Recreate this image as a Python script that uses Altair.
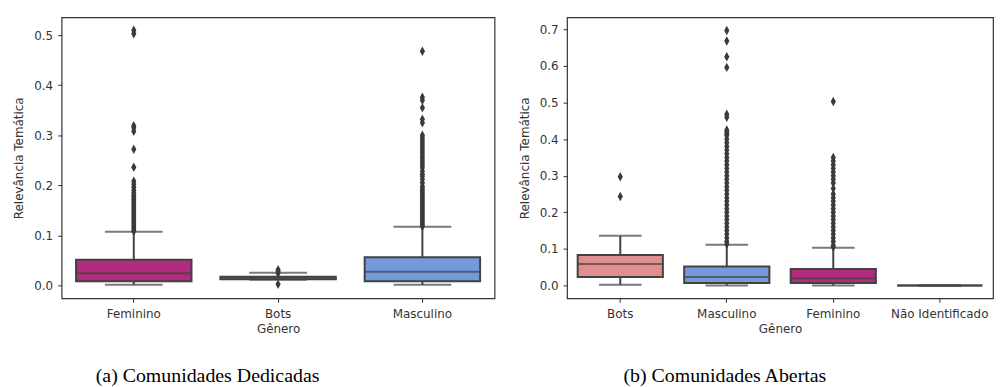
import altair as alt
import pandas as pd

# ---------------- data: (a) Comunidades Dedicadas ----------------
cats_a = ["Feminino", "Bots", "Masculino"]
q1_a = [0.008, 0.012, 0.008]
med_a = [0.024, 0.015, 0.027]
q3_a = [0.051, 0.017, 0.056]
wlo_a = [0.001, 0.011, 0.001]
whi_a = [0.107, 0.025, 0.117]
out_a_fem = [0.108, 0.112, 0.116, 0.12, 0.124, 0.128, 0.132, 0.136, 0.14, 0.144,
             0.148, 0.152, 0.156, 0.16, 0.164, 0.168, 0.172, 0.176, 0.18, 0.185,
             0.19, 0.196, 0.202, 0.208, 0.236, 0.272, 0.308, 0.315, 0.319, 0.503, 0.51]
out_a_bots = [0.002, 0.024, 0.028, 0.031]
out_a_masc = [0.118, 0.122, 0.126, 0.13, 0.134, 0.138, 0.142, 0.146, 0.15, 0.154,
              0.158, 0.162, 0.166, 0.17, 0.174, 0.178, 0.182, 0.186, 0.19, 0.194,
              0.198, 0.205, 0.212, 0.218, 0.222, 0.228, 0.235, 0.24, 0.245, 0.25,
              0.255, 0.26, 0.265, 0.27, 0.275, 0.28, 0.285, 0.29, 0.295, 0.3,
              0.325, 0.332, 0.355, 0.37, 0.376, 0.468]

# ---------------- data: (b) Comunidades Abertas ----------------
cats_b = ["Bots", "Masculino", "Feminino", "Não Identificado"]
q1_b = [0.023, 0.007, 0.007, 0.0]
med_b = [0.059, 0.023, 0.020, 0.0]
q3_b = [0.083, 0.052, 0.045, 0.0]
wlo_b = [0.002, 0.0, 0.0, 0.0]
whi_b = [0.136, 0.111, 0.103, 0.0]
out_b_bots = [0.243, 0.297]
out_b_masc = [0.113, 0.12, 0.13, 0.14, 0.15, 0.16, 0.17, 0.18, 0.19, 0.2, 0.21,
              0.22, 0.23, 0.24, 0.25, 0.26, 0.27, 0.28, 0.29, 0.3, 0.31, 0.32,
              0.33, 0.34, 0.35, 0.36, 0.37, 0.38, 0.39, 0.4, 0.41, 0.415, 0.42,
              0.425, 0.46, 0.468, 0.596, 0.625, 0.668, 0.697]
out_b_fem = [0.105, 0.11, 0.12, 0.13, 0.14, 0.15, 0.16, 0.17, 0.18, 0.19, 0.2,
             0.21, 0.22, 0.23, 0.24, 0.25, 0.265, 0.28, 0.29, 0.3, 0.31, 0.32,
             0.33, 0.34, 0.35, 0.503]
out_b_ni = []

color_map = {"Feminino": "#b12b7f", "Masculino": "#759adc",
             "Bots": "#e28e8e", "Não Identificado": "#9a9a9a"}

LINE = "#424242"
FONT = "DejaVu Sans"
DIAMOND = "M0,-1L0.55,0L0,1L-0.55,0Z"


def panel(cats, q1, med, q3, wlo, whi, outs, ydom, yticks, width, height,
          caption, cap_x):
    stats = pd.DataFrame({"cat": cats, "q1": q1, "med": med, "q3": q3,
                          "wlo": wlo, "whi": whi})
    rows = []
    for c, vals in zip(cats, outs):
        for v in vals:
            rows.append({"cat": c, "v": v})
    outl = pd.DataFrame(rows, columns=["cat", "v"])
    band = width / len(cats)

    xenc = alt.X("cat:N", sort=cats, title="Gênero",
                 scale=alt.Scale(paddingInner=0, paddingOuter=0),
                 axis=alt.Axis(labelAngle=0))
    yscale = alt.Scale(domain=ydom, nice=False, zero=False)
    yax = alt.Axis(values=yticks, format=".1f")

    base = alt.Chart(stats)
    whisk_hi = base.mark_rule(color=LINE, strokeWidth=2).encode(
        x=xenc, y=alt.Y("q3:Q", scale=yscale, axis=yax, title="Relevância Temática"),
        y2="whi:Q")
    whisk_lo = base.mark_rule(color=LINE, strokeWidth=2).encode(
        x=xenc, y=alt.Y("wlo:Q", scale=yscale), y2="q1:Q")
    boxes = base.mark_bar(width={"band": 0.8}, stroke=LINE, strokeWidth=2).encode(
        x=xenc, y=alt.Y("q1:Q", scale=yscale), y2="q3:Q",
        color=alt.Color("cat:N", scale=alt.Scale(domain=list(color_map.keys()),
                                                 range=list(color_map.values())),
                        legend=None))
    medians = base.mark_tick(color=LINE, thickness=2, size=band * 0.8).encode(
        x=xenc, y=alt.Y("med:Q", scale=yscale))
    cap_hi = base.mark_tick(color=LINE, thickness=2, size=band * 0.4).encode(
        x=xenc, y=alt.Y("whi:Q", scale=yscale))
    cap_lo = base.mark_tick(color=LINE, thickness=2, size=band * 0.4).encode(
        x=xenc, y=alt.Y("wlo:Q", scale=yscale))
    pts = alt.Chart(outl).mark_point(shape=DIAMOND, filled=True, size=90,
                                     color="#3a3a3a", opacity=1).encode(
        x=xenc, y=alt.Y("v:Q", scale=yscale))
    cap = alt.Chart(pd.DataFrame({"t": [caption]})).mark_text(
        font="Liberation Serif", fontSize=20, align="center",
        baseline="alphabetic", color="#000").encode(
        text="t:N", x=alt.value(cap_x), y=alt.value(height + 84))
    return alt.layer(whisk_hi, whisk_lo, boxes, medians, cap_hi, cap_lo, pts,
                     cap).properties(width=width, height=height)


left = panel(cats_a, q1_a, med_a, q3_a, wlo_a, whi_a,
             [out_a_fem, out_a_bots, out_a_masc],
             [-0.026, 0.536], [0.0, 0.1, 0.2, 0.3, 0.4, 0.5], 436, 283,
             "(a) Comunidades Dedicadas", 147)
right = panel(cats_b, q1_b, med_b, q3_b, wlo_b, whi_b,
              [out_b_bots, out_b_masc, out_b_fem, out_b_ni],
              [-0.035, 0.733], [0.0, 0.1, 0.2, 0.3, 0.4, 0.5, 0.6, 0.7], 429, 283,
              "(b) Comunidades Abertas", 159)

chart = alt.hconcat(left, right, spacing=22).properties(
    padding={"left": 4, "top": 7, "right": 0, "bottom": 0}
).configure_view(stroke="#333333", strokeWidth=1.2).configure_axis(
    grid=False, domain=False, labelFont=FONT, titleFont=FONT,
    labelFontSize=12, titleFontSize=12, titleFontWeight="normal",
    labelColor="#333333", titleColor="#333333", tickColor="#333333",
    tickSize=4, labelPadding=5, titlePadding=8
).configure_axisX(titlePadding=4, labelPadding=6)

chart.save("out.html", embed_options={"renderer": "svg", "actions": False})
